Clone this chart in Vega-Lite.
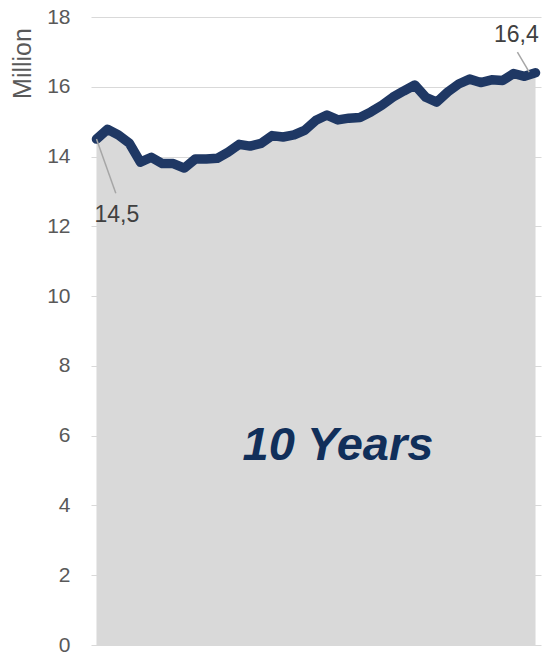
{
  "$schema": "https://vega.github.io/schema/vega-lite/v6.json",
  "width": 450,
  "height": 628,
  "autosize": {"type": "none"},
  "padding": {"left": 91, "top": 17, "right": 5, "bottom": 10},
  "background": "white",
  "config": {"view": {"stroke": null}, "font": "Liberation Sans"},
  "datasets": {
    "series": [
      {"q": 0, "v": 14.5}, {"q": 1, "v": 14.78}, {"q": 2, "v": 14.62}, {"q": 3, "v": 14.38},
      {"q": 4, "v": 13.84}, {"q": 5, "v": 13.98}, {"q": 6, "v": 13.8}, {"q": 7, "v": 13.8},
      {"q": 8, "v": 13.67}, {"q": 9, "v": 13.93}, {"q": 10, "v": 13.93}, {"q": 11, "v": 13.95},
      {"q": 12, "v": 14.13}, {"q": 13, "v": 14.35}, {"q": 14, "v": 14.3}, {"q": 15, "v": 14.38},
      {"q": 16, "v": 14.6}, {"q": 17, "v": 14.56}, {"q": 18, "v": 14.62}, {"q": 19, "v": 14.76},
      {"q": 20, "v": 15.04}, {"q": 21, "v": 15.19}, {"q": 22, "v": 15.05}, {"q": 23, "v": 15.1},
      {"q": 24, "v": 15.12}, {"q": 25, "v": 15.28}, {"q": 26, "v": 15.47}, {"q": 27, "v": 15.7},
      {"q": 28, "v": 15.88}, {"q": 29, "v": 16.05}, {"q": 30, "v": 15.7}, {"q": 31, "v": 15.56},
      {"q": 32, "v": 15.85}, {"q": 33, "v": 16.08}, {"q": 34, "v": 16.22}, {"q": 35, "v": 16.12},
      {"q": 36, "v": 16.2}, {"q": 37, "v": 16.18}, {"q": 38, "v": 16.38}, {"q": 39, "v": 16.3},
      {"q": 40, "v": 16.4}
    ],
    "one": [{"k": 1}]
  },
  "layer": [
    {
      "data": {"name": "series"},
      "mark": {"type": "area", "color": "#d9d9d9"},
      "encoding": {
        "x": {"field": "q", "type": "quantitative", "scale": {"domain": [-0.5, 40.5], "nice": false, "zero": false}, "axis": null},
        "y": {
          "field": "v", "type": "quantitative",
          "scale": {"domain": [0, 18], "nice": false},
          "axis": {
            "title": "Million",
            "values": [0, 2, 4, 6, 8, 10, 12, 14, 16, 18],
            "grid": true, "gridColor": "#d9d9d9", "gridWidth": 1,
            "domain": false, "ticks": false,
            "labelFontSize": 21, "labelColor": "#595959", "labelPadding": 21,
            "titleFontSize": 25, "titleFontWeight": "normal", "titleColor": "#595959",
            "titleAngle": -90, "titleX": -69, "titleY": 46,
            "titleAlign": "center", "titleBaseline": "middle"
          }
        }
      }
    },
    {
      "data": {"name": "series"},
      "mark": {"type": "line", "color": "#1f3864", "strokeWidth": 9.5, "strokeJoin": "round", "strokeCap": "round"},
      "encoding": {
        "x": {"field": "q", "type": "quantitative"},
        "y": {"field": "v", "type": "quantitative"}
      }
    },
    {
      "data": {"name": "one"},
      "mark": {"type": "rule", "color": "#a6a6a6", "strokeWidth": 1.5},
      "encoding": {
        "x": {"datum": 0, "type": "quantitative"},
        "y": {"datum": 14.5, "type": "quantitative"},
        "x2": {"datum": 1.76},
        "y2": {"datum": 12.95}
      }
    },
    {
      "data": {"name": "one"},
      "mark": {"type": "rule", "color": "#a6a6a6", "strokeWidth": 1.5},
      "encoding": {
        "x": {"datum": 38.35, "type": "quantitative"},
        "y": {"datum": 16.99, "type": "quantitative"},
        "x2": {"datum": 39.43},
        "y2": {"datum": 16.42}
      }
    },
    {
      "data": {"name": "one"},
      "mark": {"type": "text", "text": "14,5", "fontSize": 23, "color": "#404040", "align": "center", "baseline": "alphabetic"},
      "encoding": {
        "x": {"datum": 1.85, "type": "quantitative"},
        "y": {"datum": 12.12, "type": "quantitative"}
      }
    },
    {
      "data": {"name": "one"},
      "mark": {"type": "text", "text": "16,4", "fontSize": 23, "color": "#404040", "align": "center", "baseline": "alphabetic"},
      "encoding": {
        "x": {"datum": 38.25, "type": "quantitative"},
        "y": {"datum": 17.28, "type": "quantitative"}
      }
    },
    {
      "data": {"name": "one"},
      "mark": {"type": "text", "text": "10 Years", "fontSize": 47, "fontWeight": "bold", "fontStyle": "italic", "color": "#112f5a", "align": "center", "baseline": "alphabetic"},
      "encoding": {
        "x": {"datum": 22.0, "type": "quantitative"},
        "y": {"datum": 5.3, "type": "quantitative"}
      }
    }
  ]
}
